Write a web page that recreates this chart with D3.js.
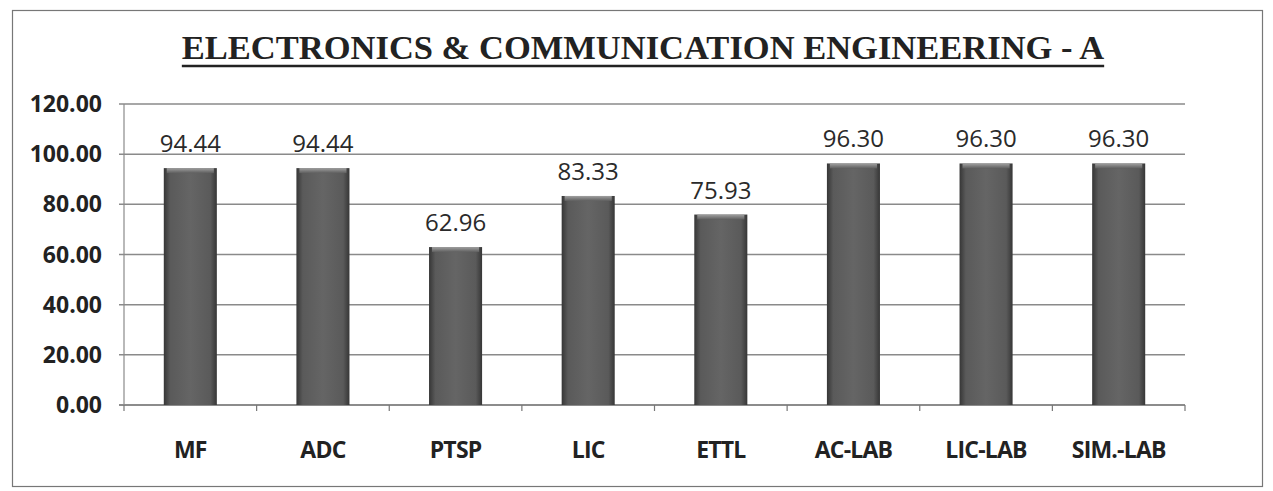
<!DOCTYPE html>
<html>
<head>
<meta charset="utf-8">
<script src="https://cdn.jsdelivr.net/npm/d3@7"></script>
<style>
  body { margin: 0; background: #fff; }
  svg { display: block; }
  .ytick text { font-family: "Open Sans", sans-serif; font-weight: 700; font-size: 23px; fill: #222; }
  .xlabel { font-family: "Open Sans", sans-serif; font-weight: 700; font-size: 23px; fill: #222; letter-spacing: -0.8px; }
  .value { font-family: "Open Sans", sans-serif; font-size: 24px; fill: #2a2a2a; }
  .title { font-family: "Liberation Serif", "Times New Roman", serif; font-weight: 700; font-size: 34.5px; fill: #222; }
</style>
</head>
<body>
<svg id="chart"></svg>
<script>
// chart data
const title = "ELECTRONICS & COMMUNICATION ENGINEERING - A";
const subjects = ["MF", "ADC", "PTSP", "LIC", "ETTL", "AC-LAB", "LIC-LAB", "SIM.-LAB"];
const scores = [94.44, 94.44, 62.96, 83.33, 75.93, 96.30, 96.30, 96.30];
const yTicks = [0, 20, 40, 60, 80, 100, 120];

const W = 1273, H = 491;
const plot = { left: 124, right: 1185, top: 104, bottom: 405 };

const svg = d3.select("#chart").attr("width", W).attr("height", H);

// bar shading: darker edges, lighter top bevel
const defs = svg.append("defs");
const side = defs.append("linearGradient").attr("id", "barSide")
    .attr("x1", 0).attr("x2", 1).attr("y1", 0).attr("y2", 0);
[[0, "#363636"], [0.12, "#5a5a5a"], [0.5, "#656565"], [0.88, "#5a5a5a"], [1, "#363636"]]
    .forEach(([o, c]) => side.append("stop").attr("offset", o).attr("stop-color", c));
const cap = defs.append("linearGradient").attr("id", "barCap")
    .attr("x1", 0).attr("x2", 0).attr("y1", 0).attr("y2", 1);
[[0, "#a0a0a0"], [1, "#5e5e5e"]]
    .forEach(([o, c]) => cap.append("stop").attr("offset", o).attr("stop-color", c));

// outer frame
svg.append("rect")
    .attr("x", 12.5).attr("y", 10.5)
    .attr("width", 1250).attr("height", 476)
    .attr("fill", "#fff").attr("stroke", "#777").attr("stroke-width", 1.2);

const x = d3.scaleBand()
    .domain(subjects)
    .range([plot.left, plot.right])
    .paddingInner(0.6)
    .paddingOuter(0.3);

const y = d3.scaleLinear()
    .domain([0, 120])
    .range([plot.bottom, plot.top]);

// gridlines + y labels
const yAxis = svg.append("g").attr("class", "ytick");
yTicks.forEach(t => {
    yAxis.append("line")
        .attr("x1", plot.left - 5).attr("x2", plot.right)
        .attr("y1", y(t)).attr("y2", y(t))
        .attr("stroke", t === 0 ? "#666" : "#8a8a8a")
        .attr("stroke-width", 1.5);
    yAxis.append("text")
        .attr("x", 102).attr("y", y(t) + 8)
        .attr("text-anchor", "end")
        .text(d3.format(".2f")(t));
});

// y axis line
svg.append("line")
    .attr("x1", plot.left).attr("x2", plot.left)
    .attr("y1", plot.top).attr("y2", plot.bottom)
    .attr("stroke", "#8a8a8a").attr("stroke-width", 1.2);

// category ticks at band boundaries
const step = x.step();
d3.range(subjects.length + 1).forEach(i => {
    const tx = plot.left + i * step;
    svg.append("line")
        .attr("x1", tx).attr("x2", tx)
        .attr("y1", plot.bottom).attr("y2", plot.bottom + 6)
        .attr("stroke", "#777").attr("stroke-width", 1.2);
});

// bars
const bars = svg.append("g").selectAll("g")
    .data(subjects.map((s, i) => ({ s, v: scores[i] })))
    .join("g");

bars.append("rect")
    .attr("x", d => x(d.s))
    .attr("y", d => y(d.v))
    .attr("width", x.bandwidth())
    .attr("height", d => y(0) - y(d.v))
    .attr("fill", "url(#barSide)");

bars.append("rect")
    .attr("x", d => x(d.s) + 3)
    .attr("y", d => y(d.v))
    .attr("width", x.bandwidth() - 6)
    .attr("height", 5)
    .attr("fill", "url(#barCap)");

bars.append("text")
    .attr("class", "value")
    .attr("x", d => x(d.s) + x.bandwidth() / 2)
    .attr("y", d => y(d.v) - 16)
    .attr("text-anchor", "middle")
    .text(d => d3.format(".2f")(d.v));

// category labels
svg.append("g").selectAll("text")
    .data(subjects)
    .join("text")
    .attr("class", "xlabel")
    .attr("x", d => x(d) + x.bandwidth() / 2)
    .attr("y", 458)
    .attr("text-anchor", "middle")
    .text(d => d);

// title with underline
const titleText = svg.append("text")
    .attr("class", "title")
    .attr("x", 643).attr("y", 59)
    .attr("text-anchor", "middle")
    .text(title);
const tw = titleText.node().getComputedTextLength();
svg.append("line")
    .attr("x1", 643 - tw / 2).attr("x2", 643 + tw / 2)
    .attr("y1", 66).attr("y2", 66)
    .attr("stroke", "#222").attr("stroke-width", 2.5);
</script>
</body>
</html>
